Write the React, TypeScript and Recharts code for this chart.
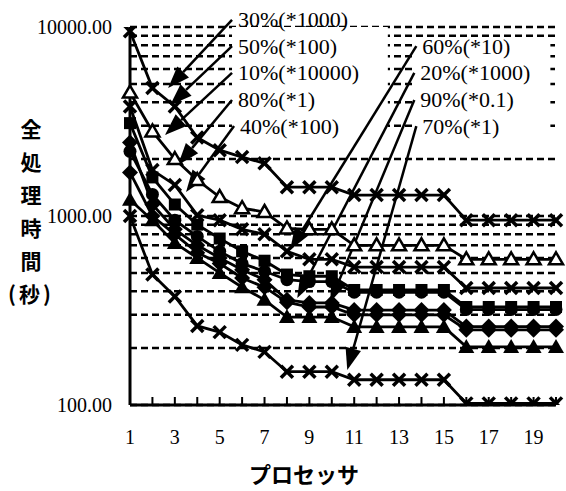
import React from 'react'
import {
  LineChart,
  Line,
  XAxis,
  YAxis,
  CartesianGrid,
  ReferenceLine,
  ReferenceArea,
} from 'recharts'

// processors on the x axis
const processors = [1, 2, 3, 4, 5, 6, 7, 8, 9, 10, 11, 12, 13, 14, 15, 16, 17, 18, 19, 20]

// total processing time (s), already scaled by the factor in each label
const s30 = [9500, 4750, 3800, 2600, 2230, 2050, 1900, 1420, 1420, 1420, 1290, 1290, 1290, 1290, 1290, 950, 950, 950, 950, 950]
const s50 = [4500, 2800, 2000, 1550, 1260, 1100, 1050, 860, 850, 850, 700, 700, 700, 700, 700, 590, 590, 590, 590, 590]
const s60 = [3800, 1750, 1460, 1010, 950, 850, 800, 650, 590, 590, 537, 537, 537, 537, 537, 416, 416, 416, 416, 416]
const s20 = [3100, 1600, 1150, 900, 760, 650, 580, 490, 480, 480, 406, 406, 406, 406, 406, 330, 330, 330, 330, 330]
const s80 = [2200, 1300, 950, 780, 650, 560, 510, 460, 450, 450, 395, 395, 395, 395, 395, 320, 320, 320, 320, 320]
const s90 = [2450, 1150, 850, 700, 600, 520, 460, 360, 347, 347, 318, 318, 318, 318, 318, 260, 260, 260, 260, 260]
const s10 = [1700, 1000, 800, 640, 560, 470, 420, 350, 330, 330, 300, 300, 300, 300, 300, 250, 250, 250, 250, 250]
const s40 = [1220, 950, 720, 600, 500, 420, 360, 292, 292, 292, 259, 259, 259, 259, 259, 203, 203, 203, 203, 203]
const s70 = [1000, 490, 375, 262, 243, 208, 191, 150, 150, 150, 136, 136, 136, 136, 136, 102, 102, 102, 102, 102]

const yTicks = [100, 200, 300, 400, 500, 600, 700, 800, 900, 1000, 2000, 3000, 4000, 5000, 6000, 7000, 8000, 9000, 10000]
const yLabels = [100, 1000, 10000]
const xLabels = [1, 3, 5, 7, 9, 11, 13, 15, 17, 19]

const yTitle = ['全', '処', '理', '時', '間', '(秒)']

// callout labels with arrows: [start, tip] in data units
const callouts = [
  { text: '30%(*1000)', from: [5.55, 10900], to: [2.7, 4750] },
  { text: '50%(*100)', from: [5.55, 7930], to: [2.79, 3860] },
  { text: '10%(*10000)', from: [5.55, 5720], to: [2.56, 2680] },
  { text: '80%(*1)', from: [5.55, 4110], to: [3.14, 1860] },
  { text: '40%(*100)', from: [5.64, 2990], to: [3.5, 1340] },
  { text: '60%(*10)', from: [13.77, 7930], to: [8.14, 661] },
  { text: '20%(*1000)', from: [13.68, 5720], to: [8.46, 368] },
  { text: '90%(*0.1)', from: [13.68, 4110], to: [9.93, 351] },
  { text: '70%(*1)', from: [13.77, 2990], to: [10.69, 153] },
]

// white backgrounds behind the callout texts
const labelBoxes = [
  { x1: 5.55, x2: 12.5, y1: 2520, y2: 10000 },
  { x1: 13.6, x2: 19.75, y1: 2520, y2: 8530 },
]

const series = [
  { key: 's30', values: s30, marker: 'x' },
  { key: 's50', values: s50, marker: 'tri' },
  { key: 's60', values: s60, marker: 'x' },
  { key: 's20', values: s20, marker: 'sq' },
  { key: 's80', values: s80, marker: 'circ' },
  { key: 's90', values: s90, marker: 'dia' },
  { key: 's10', values: s10, marker: 'dia' },
  { key: 's40', values: s40, marker: 'triF' },
  { key: 's70', values: s70, marker: 'x' },
]

const chartData = processors.map((p, i) => {
  const row: Record<string, number> = { p }
  series.forEach((s) => {
    row[s.key] = s.values[i]
  })
  return row
})

const serif = '"Liberation Serif", "DejaVu Serif", serif'
const gothic = '"Noto Sans CJK JP", "Noto Sans", sans-serif'

function Marker({ cx, cy, kind }: { cx: number; cy: number; kind: string }) {
  if (cx == null || cy == null) return <g />
  switch (kind) {
    case 'x':
      return (
        <g stroke="#000" strokeWidth={3.5}>
          <line x1={cx - 6} y1={cy - 6} x2={cx + 6} y2={cy + 6} />
          <line x1={cx - 6} y1={cy + 6} x2={cx + 6} y2={cy - 6} />
        </g>
      )
    case 'tri':
      return (
        <polygon
          points={`${cx},${cy - 7} ${cx + 7},${cy + 5} ${cx - 7},${cy + 5}`}
          fill="#fff"
          stroke="#000"
          strokeWidth={2.5}
        />
      )
    case 'triF':
      return <polygon points={`${cx},${cy - 8} ${cx + 8},${cy + 6} ${cx - 8},${cy + 6}`} fill="#000" />
    case 'dia':
      return <polygon points={`${cx},${cy - 8} ${cx + 8},${cy} ${cx},${cy + 8} ${cx - 8},${cy}`} fill="#000" />
    case 'sq':
      return <rect x={cx - 6} y={cy - 6} width={12} height={12} fill="#000" />
    default:
      return <circle cx={cx} cy={cy} r={6.5} fill="#000" />
  }
}

function arrowShape(text: string) {
  return (props: any) => {
    const { x1, y1, x2, y2 } = props
    const dx = x2 - x1
    const dy = y2 - y1
    const len = Math.sqrt(dx * dx + dy * dy)
    const ux = dx / len
    const uy = dy / len
    const headLen = 22
    const half = 8
    const bx = x2 - ux * headLen
    const by = y2 - uy * headLen
    const pts = `${x2},${y2} ${bx - uy * half},${by + ux * half} ${bx + uy * half},${by - ux * half}`
    return (
      <g>
        <line x1={x1} y1={y1} x2={bx} y2={by} stroke="#000" strokeWidth={2.5} />
        <polygon points={pts} fill="#000" />
        <text
          x={x1 + 6}
          y={y1}
          dominantBaseline="central"
          fontFamily={serif}
          fontSize={22}
          fill="#000"
        >
          {text}
        </text>
      </g>
    )
  }
}

function YTick(props: any) {
  const { x, y, payload } = props
  if (!yLabels.includes(payload.value)) return <g />
  return (
    <text x={x - 18} y={y} textAnchor="end" dominantBaseline="central" fontFamily={serif} fontSize={20} fill="#000">
      {payload.value.toFixed(2)}
    </text>
  )
}

function XTick(props: any) {
  const { x, y, payload } = props
  return (
    <g>
      <line x1={x} y1={y - 1} x2={x} y2={y - 8} stroke="#000" strokeWidth={2} />
      {xLabels.includes(payload.value) && (
        <text x={x} y={y + 32} textAnchor="middle" dominantBaseline="central" fontFamily={serif} fontSize={20} fill="#000">
          {payload.value}
        </text>
      )}
    </g>
  )
}

export default function App() {
  return (
    <div style={{ position: 'absolute', left: 0, top: 0, width: 566, height: 491, background: '#fff' }}>
      <LineChart width={566} height={491} data={chartData} margin={{ top: 27, right: 10, left: 30, bottom: 46 }}>
        <CartesianGrid vertical={false} stroke="#000" strokeWidth={2.5} strokeDasharray="7 4" />
        <XAxis
          dataKey="p"
          type="number"
          domain={[1, 20]}
          ticks={processors}
          height={40}
          tickSize={0}
          tickMargin={0}
          tick={<XTick />}
          axisLine={{ stroke: '#000', strokeWidth: 3 }}
          tickLine={false}
          interval={0}
        />
        <YAxis
          scale="log"
          domain={[100, 10000]}
          allowDataOverflow
          ticks={yTicks}
          width={100}
          tickSize={0}
          tickMargin={0}
          tick={<YTick />}
          axisLine={{ stroke: '#000', strokeWidth: 3 }}
          tickLine={false}
          interval={0}
        />
        {labelBoxes.map((b, i) => (
          <ReferenceArea
            key={`box${i}`}
            x1={b.x1}
            x2={b.x2}
            y1={b.y1}
            y2={b.y2}
            fill="#fff"
            fillOpacity={1}
            stroke="none"
            ifOverflow="visible"
          />
        ))}
        {series.map((s) => (
          <Line
            key={s.key}
            dataKey={s.key}
            type="linear"
            stroke="#000"
            strokeWidth={2.8}
            isAnimationActive={false}
            dot={(p: any) => <Marker key={`${s.key}-${p.index}`} cx={p.cx} cy={p.cy} kind={s.marker} />}
            activeDot={false}
          />
        ))}
        {callouts.map((c) => (
          <ReferenceLine
            key={c.text}
            segment={[
              { x: c.from[0], y: c.from[1] },
              { x: c.to[0], y: c.to[1] },
            ]}
            ifOverflow="visible"
            stroke="#000"
            shape={arrowShape(c.text)}
          />
        ))}
      </LineChart>
      {yTitle.map((t, i) => (
        <div
          key={t}
          style={{
            position: 'absolute',
            left: 0,
            width: 62,
            top: 128 - 14 + i * 33,
            textAlign: 'center',
            fontFamily: gothic,
            fontWeight: 700,
            fontSize: 21,
            lineHeight: '28px',
            letterSpacing: t.length > 1 ? 3 : 0,
          }}
        >
          {t}
        </div>
      ))}
      <div
        style={{
          position: 'absolute',
          left: 200,
          width: 208,
          top: 459,
          textAlign: 'center',
          fontFamily: gothic,
          fontWeight: 700,
          fontSize: 22,
          lineHeight: '28px',
        }}
      >
        プロセッサ
      </div>
    </div>
  )
}
